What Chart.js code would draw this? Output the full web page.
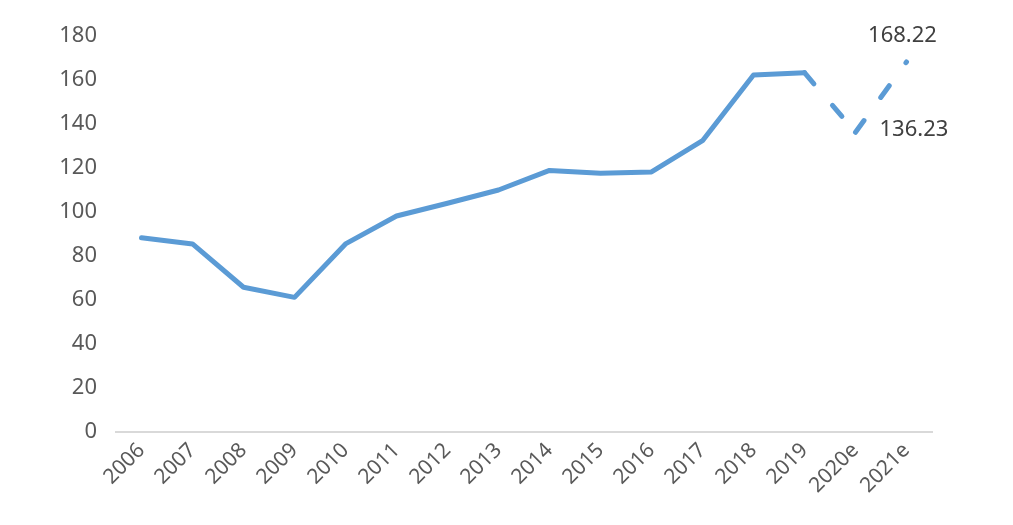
<!DOCTYPE html>
<html>
<head>
<meta charset="utf-8">
<script src="https://cdn.jsdelivr.net/npm/chart.js@4"></script>
<style>
html,body{margin:0;padding:0;background:#fff;}
#wrap{width:1013px;height:525px;position:relative;}
</style>
</head>
<body>
<div id="wrap"><canvas id="c" width="1013" height="525"></canvas></div>
<script>
const categories = ['2006','2007','2008','2009','2010','2011','2012','2013','2014','2015','2016','2017','2018','2019','2020e','2021e'];
const values = [88.3, 85.5, 65.8, 61.2, 85.5, 98.2, 104.0, 110.0, 118.9, 117.6, 118.2, 132.4, 162.3, 163.3, 136.23, 168.22];
const labelledIndices = [14, 15];
const yTicks = [0, 20, 40, 60, 80, 100, 120, 140, 160, 180];
const firstEstimateIndex = 13;

const LINE = '#5B9BD5';
const FONT = '"Noto Sans", "DejaVu Sans", sans-serif';

const labelPlugin = {
  id: 'pointLabels',
  afterDatasetsDraw(chart) {
    const ctx = chart.ctx;
    const meta = chart.getDatasetMeta(0);
    ctx.save();
    ctx.font = '22px ' + FONT;
    ctx.fillStyle = '#404040';
    ctx.textBaseline = 'middle';
    labelledIndices.forEach(i => {
      const p = meta.data[i];
      const txt = values[i].toFixed(2);
      if (i === 14) {
        ctx.textAlign = 'left';
        ctx.fillText(txt, p.x + 24, p.y - 3);
      } else {
        ctx.textAlign = 'center';
        ctx.fillText(txt, p.x - 4, p.y - 26);
      }
    });
    ctx.restore();
  }
};

new Chart(document.getElementById('c'), {
  type: 'line',
  data: {
    labels: categories,
    datasets: [{
      data: values,
      borderColor: LINE,
      borderWidth: 5,
      borderCapStyle: 'round',
      borderJoinStyle: 'round',
      pointRadius: 0,
      pointHoverRadius: 0,
      fill: false,
      tension: 0,
      segment: {
        borderDash: ctx => ctx.p0DataIndex >= firstEstimateIndex ? [14.5, 28.5] : undefined,
        borderDashOffset: ctx => ctx.p0DataIndex >= firstEstimateIndex ? (ctx.p0DataIndex - firstEstimateIndex) * 0.001 : 0
      }
    }]
  },
  options: {
    responsive: false,
    animation: false,
    devicePixelRatio: 1,
    layout: { padding: { top: 36, right: 81, left: 0, bottom: 0 } },
    plugins: { legend: { display: false }, tooltip: { enabled: false } },
    scales: {
      x: {
        offset: true,
        grid: { display: false, drawTicks: false },
        border: { display: true, color: '#d9d9d9', width: 2 },
        ticks: {
          color: '#595959',
          font: { family: FONT, size: 21 },
          maxRotation: 45, minRotation: 45,
          padding: 6,
          autoSkip: false
        },
        afterFit(scale) { scale.height = 93; }
      },
      y: {
        min: 0, max: 180,
        afterBuildTicks(scale) { scale.ticks = yTicks.map(v => ({ value: v })); },
        grid: { display: false, drawTicks: false },
        border: { display: false },
        ticks: {
          color: '#595959',
          font: { family: FONT, size: 22 },
          padding: 19
        },
        afterFit(scale) { scale.width = 116; }
      }
    }
  },
  plugins: [labelPlugin]
});
</script>
</body>
</html>
